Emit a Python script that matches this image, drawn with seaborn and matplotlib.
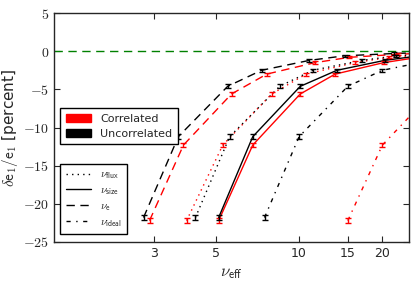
import numpy as np
import pandas as pd
import matplotlib
matplotlib.use("Agg")
import matplotlib.pyplot as plt
from matplotlib.patches import Patch
from matplotlib.lines import Line2D
from matplotlib.ticker import FuncFormatter, NullLocator
import seaborn as sns

# y values (bias in percent) shared by all estimators of one sample type
bias_unc = [-21.8, -11.2, -4.6, -2.5, -1.2, -0.6, -0.3, -0.15]
bias_cor = [-22.2, -12.3, -5.6, -3.0, -1.5, -0.8, -0.4, -0.2]
err_unc = [0.35, 0.3, 0.25, 0.2, 0.2, 0.15, 0.15, 0.1]
err_cor = [0.35, 0.3, 0.25, 0.2, 0.2, 0.15, 0.15, 0.1]

# effective nu per estimator, uncorrelated (black) and correlated (red)
nu_flux_unc = [4.22, 5.61, 8.51, 11.2, 16.9, 22.4, 33.6, 44.8]
nu_flux_cor = [3.92, 5.30, 7.96, 10.6, 15.9, 21.2, 31.8, 42.4]
nu_size_unc = [5.12, 6.80, 10.1, 13.7, 20.4, 27.2, 40.8, 54.4]
nu_size_cor = [5.12, 6.80, 10.1, 13.5, 20.2, 27.0, 40.5, 54.0]
nu_e_unc = [2.74, 3.66, 5.52, 7.32, 10.9, 14.6, 22.0, 29.3]
nu_e_cor = [2.88, 3.82, 5.70, 7.64, 11.4, 15.2, 22.8, 30.4]
nu_ideal_unc = [7.5, 10, 15, 20, 30, 40, 60, 80]
nu_ideal_cor = [15, 20, 30, 40, 60, 80, 120, 160]

estimators = ["flux", "size", "e", "ideal"]
samples = ["Correlated", "Uncorrelated"]
xticks = [3, 5, 10, 15, 20]

nus = {
    ("flux", "Uncorrelated"): nu_flux_unc, ("flux", "Correlated"): nu_flux_cor,
    ("size", "Uncorrelated"): nu_size_unc, ("size", "Correlated"): nu_size_cor,
    ("e", "Uncorrelated"): nu_e_unc, ("e", "Correlated"): nu_e_cor,
    ("ideal", "Uncorrelated"): nu_ideal_unc, ("ideal", "Correlated"): nu_ideal_cor,
}
bias = {"Uncorrelated": bias_unc, "Correlated": bias_cor}
errs = {"Uncorrelated": err_unc, "Correlated": err_cor}

rows = []
for (est, samp), xs in nus.items():
    for i, x in enumerate(xs):
        rows.append({"nu": x, "bias": bias[samp][i], "err": errs[samp][i],
                     "estimator": est, "sample": samp})
df = pd.DataFrame(rows)

sns.set_style("ticks")
plt.rcParams["font.family"] = ["DejaVu Sans"]
plt.rcParams["mathtext.fontset"] = "cm"
plt.rcParams["xtick.direction"] = "in"
plt.rcParams["ytick.direction"] = "in"
plt.rcParams["xtick.top"] = True
plt.rcParams["ytick.right"] = True

colors = {"Correlated": "red", "Uncorrelated": "black"}
dashes = {"flux": (1, 3), "size": "", "e": (6, 4), "ideal": (3, 4, 1, 4)}

fig = plt.figure(figsize=(4.15, 2.84), dpi=100)
ax = fig.add_axes([0.130, 0.148, 0.856, 0.806])

ax.axhline(0, color="green", lw=1, dashes=(6, 4))

# red first, black on top
for samp in samples:
    sub = df[df["sample"] == samp]
    sns.lineplot(data=sub, x="nu", y="bias", hue="sample", style="estimator",
                 palette=colors, dashes=dashes, estimator=None, sort=False,
                 legend=False, lw=1, ax=ax)

for (est, samp), g in df.groupby(["estimator", "sample"]):
    ax.errorbar(g["nu"], g["bias"], yerr=g["err"], fmt="none",
                ecolor=colors[samp], elinewidth=1, capsize=2.5, capthick=1)

ax.set_xscale("log")
ax.set_xlim(1.3, 25)
ax.set_ylim(-25, 5)
ax.set_xticks(xticks)
ax.xaxis.set_minor_locator(NullLocator())
ax.xaxis.set_major_formatter(FuncFormatter(lambda v, p: "%d" % v))
ax.set_yticks([-25, -20, -15, -10, -5, 0, 5])
ax.yaxis.set_major_formatter(FuncFormatter(lambda v, p: r"$%d$" % v))
ax.tick_params(labelsize=9, length=4, width=0.8)
ax.tick_params(axis="y", labelsize=10)
for s in ax.spines.values():
    s.set_linewidth(1)

ax.set_xlabel(r"$\nu_\mathsf{eff}$", fontsize=12, labelpad=2)
ax.set_ylabel(r"$\delta\mathsf{e}_1/\mathsf{e}_1$ [percent]", fontsize=11, labelpad=2)

h1 = [Patch(color="red", label="Correlated"), Patch(color="black", label="Uncorrelated")]
leg1 = ax.legend(handles=h1, loc="upper left", bbox_to_anchor=(0.017, 0.585),
                 borderaxespad=0, fontsize=8, fancybox=False, framealpha=1,
                 edgecolor="black", handlelength=2.3, handleheight=0.8,
                 labelspacing=0.45, borderpad=0.5)
leg1.get_frame().set_linewidth(1)
ax.add_artist(leg1)

lab = {"flux": r"$\nu_\mathsf{flux}$", "size": r"$\nu_\mathsf{size}$",
       "e": r"$\nu_\mathsf{e}$", "ideal": r"$\nu_\mathsf{ideal}$"}
h2 = []
for e in estimators:
    if dashes[e]:
        h2.append(Line2D([], [], color="black", lw=1, dashes=dashes[e], label=lab[e]))
    else:
        h2.append(Line2D([], [], color="black", lw=1, ls="-", label=lab[e]))
leg2 = ax.legend(handles=h2, loc="upper left", bbox_to_anchor=(0.017, 0.341),
                 borderaxespad=0, fontsize=8, fancybox=False, framealpha=1,
                 edgecolor="black", handlelength=2.3, labelspacing=0.35,
                 borderpad=0.5)
leg2.get_frame().set_linewidth(1)

fig.savefig("out.png", dpi=100)
